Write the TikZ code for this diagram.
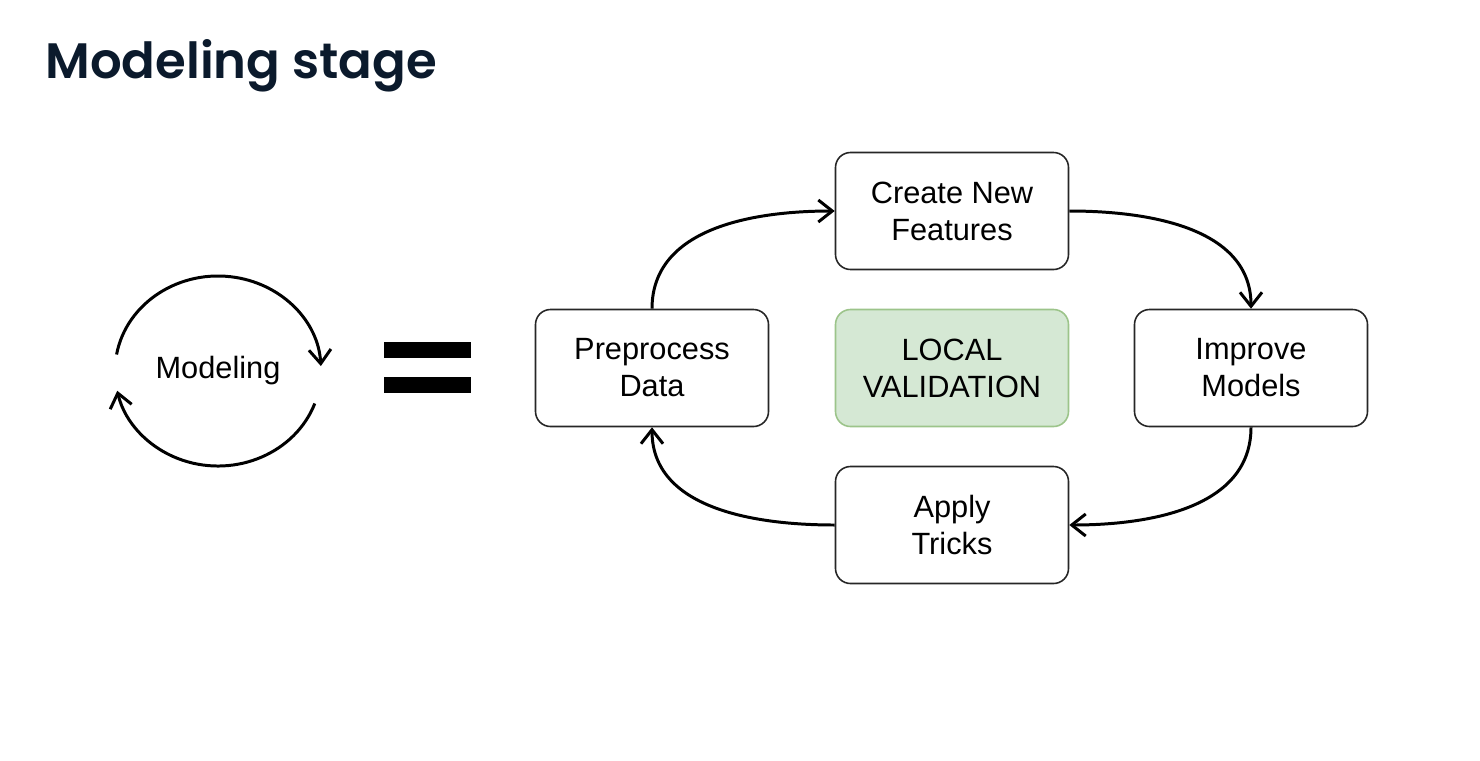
\documentclass[tikz,border=0pt]{standalone}
\usepackage{fontspec}
\setmainfont{Liberation Sans}
\newfontfamily\titlefont{Poppins SemiBold}
\usetikzlibrary{arrows.meta}
\definecolor{titlenavy}{HTML}{0B1A2C}
\definecolor{valfill}{HTML}{D5E8D4}
\definecolor{valdraw}{HTML}{9CC48A}
\tikzset{
  stagebox/.style={draw=black!85, line width=0.9pt, rounded corners=3mm,
    minimum width=46.6mm, minimum height=23.4mm, inner sep=0pt, align=center},
  cyclearrow/.style={-{Straight Barb[length=2.8mm,width=4.4mm]}, line width=1.7pt},
}
\begin{document}
\begin{tikzpicture}[x=0.2mm,y=0.2mm,font={\fontsize{17.5}{21}\selectfont}]
	\useasboundingbox (0,0) rectangle (1480,-760);
	%%Title
	\node[anchor=base west,inner sep=0pt,text=titlenavy,font={\titlefont\fontsize{28.3}{34}\selectfont}] (title) at (45,-78) {Modeling stage};
	%%Modeling loop
	\node (mod) at (218,-371) {Modeling};
	\coordinate (c) at (218,-371);
	\draw[cyclearrow] (c) ++(170:103 and 95) arc[start angle=170,end angle=3,x radius=103,y radius=95];
	\draw[cyclearrow] (c) ++(-20:103 and 95) arc[start angle=-20,end angle=-168,x radius=103,y radius=95];
	%%Equals sign
	\fill (384,-342) rectangle (471,-358);
	\fill (384,-377) rectangle (471,-393);
	%%Stages
	\node[stagebox] (pre) at (652,-368) {Preprocess\\Data};
	\node[stagebox] (cnf) at (952,-211) {Create New\\Features};
	\node[stagebox,fill=valfill,draw=valdraw] (val) at (952,-368) {LOCAL\\VALIDATION};
	\node[stagebox] (imp) at (1251,-368) {Improve\\Models};
	\node[stagebox] (apt) at (952,-525) {Apply\\Tricks};
	%%Cycle arrows
	\draw[cyclearrow] (pre.north) to[out=90,in=180] (cnf.west);
	\draw[cyclearrow] (cnf.east) to[out=0,in=90] (imp.north);
	\draw[cyclearrow] (imp.south) to[out=-90,in=0] (apt.east);
	\draw[cyclearrow] (apt.west) to[out=180,in=-90] (pre.south);
\end{tikzpicture}
\end{document}
